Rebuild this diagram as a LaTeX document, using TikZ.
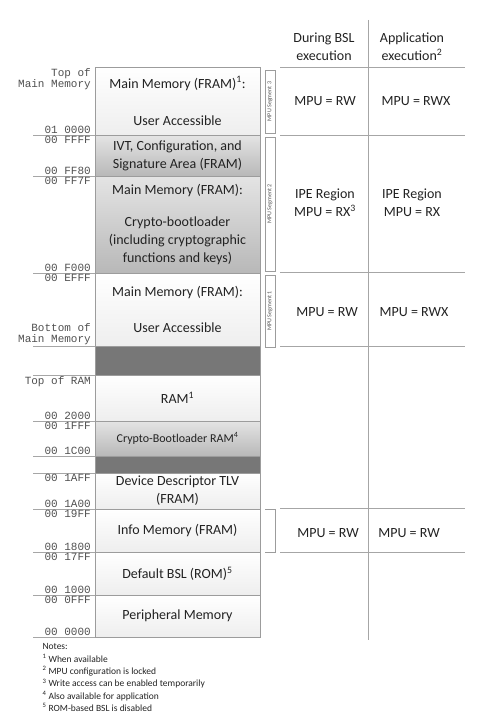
\documentclass[tikz,border=0pt]{standalone}
\usepackage{fontspec}
\setmainfont{Carlito}
\newfontfamily\addrfont{Liberation Mono}
\usetikzlibrary{positioning,shadows}
\definecolor{MemBorder}{HTML}{9C9C9C}
\definecolor{MemLightBot}{HTML}{EEEEEE}
\definecolor{MemGrayTop}{HTML}{E4E4E4}
\definecolor{MemGrayBot}{HTML}{B8B8B8}
\definecolor{MemDark}{HTML}{777777}
\definecolor{AddrText}{HTML}{505050}
\definecolor{RuleGray}{HTML}{A6A6A6}
\definecolor{InkText}{HTML}{222222}
\tikzset{
    % memory map boxes
    mem/.style={
        rectangle,
        draw=MemBorder,
        line width=0.8pt,
        top color=white,
        bottom color=MemLightBot,
        text=InkText,
        minimum width=165pt,
        inner sep=0pt,
        outer sep=0pt,
        align=center,
        font=\fontsize{14}{18}\selectfont,
        drop shadow={shadow xshift=1.2pt, shadow yshift=-1.2pt, opacity=0.25}
    },
    mem gray/.style={
        mem,
        top color=MemGrayTop,
        bottom color=MemGrayBot
    },
    mem dark/.style={
        mem,
        top color=MemDark,
        bottom color=MemDark
    },
    addr/.style={
        font=\addrfont\fontsize{11}{11.5}\selectfont,
        text=AddrText,
        inner sep=1pt,
        align=right
    },
    tick/.style={
        draw=RuleGray,
        line width=0.8pt
    },
    grid line/.style={
        draw=RuleGray,
        line width=0.7pt
    },
    segbox/.style={
        rectangle,
        draw=MemBorder,
        line width=0.6pt,
        minimum height=10pt,
        inner sep=0pt,
        text=AddrText,
        font=\fontsize{6}{7}\selectfont
    },
    cell/.style={
        align=center,
        text=InkText,
        font=\fontsize{14}{18}\selectfont
    },
    notes/.style={
        align=left,
        anchor=north west,
        text=InkText,
        font=\fontsize{9.5}{12.4}\selectfont
    }
}
\begin{document}
\begin{tikzpicture}[x=1pt, y=-1pt]
    \useasboundingbox (0,0) rectangle (491,725);

    % memory column
    \node[mem, anchor=north, minimum height=68pt] (main3) at (177.5,67)
        {Main Memory (FRAM)\textsuperscript{1}:\\[19pt]User Accessible};
    \node[mem gray, below=0pt of main3, minimum height=41pt] (ivt)
        {IVT, Configuration, and\\Signature Area (FRAM)};
    \node[mem gray, below=0pt of ivt, minimum height=97pt] (crypto)
        {Main Memory (FRAM):\\[14pt]Crypto-bootloader\\(including cryptographic\\functions and keys)};
    \node[mem, below=0pt of crypto, minimum height=73pt] (main1)
        {Main Memory (FRAM):\\[18pt]User Accessible};
    \node[mem dark, below=0pt of main1, minimum height=29pt] (gapa) {};
    \node[mem, below=0pt of gapa, minimum height=46pt] (ram)
        {RAM\textsuperscript{1}};
    \node[mem gray, below=0pt of ram, minimum height=35pt,
        font=\fontsize{12}{14}\selectfont] (cbram)
        {Crypto-Bootloader RAM\textsuperscript{4}};
    \node[mem dark, below=0pt of cbram, minimum height=17pt] (gapb) {};
    \node[mem, below=0pt of gapb, minimum height=36pt] (tlv)
        {Device Descriptor TLV\\(FRAM)};
    \node[mem, below=0pt of tlv, minimum height=43pt] (info)
        {Info Memory (FRAM)};
    \node[mem, below=0pt of info, minimum height=43pt] (bsl)
        {Default BSL (ROM)\textsuperscript{5}};
    \node[mem, below=0pt of bsl, minimum height=42pt] (periph)
        {Peripheral Memory};

    % boundary ticks
    \foreach \b in {main3,ivt,crypto,main1,gapa,ram,cbram,gapb,tlv,info,bsl,periph}
        \draw[tick] (\b.south west) -- ++(-62,0);

    % addresses
    \node[addr, anchor=north east] (topmain) at ([xshift=-3pt]main3.north west) {Top of\\Main Memory};
    \node[addr, anchor=south east] (a10000) at ([xshift=-3pt]main3.south west) {01 0000};
    \node[addr, anchor=north east] (affff) at ([xshift=-3pt]ivt.north west) {00 FFFF};
    \node[addr, anchor=south east] (aff80) at ([xshift=-3pt]ivt.south west) {00 FF80};
    \node[addr, anchor=north east] (aff7f) at ([xshift=-3pt]crypto.north west) {00 FF7F};
    \node[addr, anchor=south east] (af000) at ([xshift=-3pt]crypto.south west) {00 F000};
    \node[addr, anchor=north east] (aefff) at ([xshift=-3pt]main1.north west) {00 EFFF};
    \node[addr, anchor=south east] (botmain) at ([xshift=-3pt]main1.south west) {Bottom of\\Main Memory};
    \node[addr, anchor=north east] (topram) at ([xshift=-3pt]ram.north west) {Top of RAM};
    \node[addr, anchor=south east] (a2000) at ([xshift=-3pt]ram.south west) {00 2000};
    \node[addr, anchor=north east] (a1fff) at ([xshift=-3pt]cbram.north west) {00 1FFF};
    \node[addr, anchor=south east] (a1c00) at ([xshift=-3pt]cbram.south west) {00 1C00};
    \node[addr, anchor=north east] (a1aff) at ([xshift=-3pt]tlv.north west) {00 1AFF};
    \node[addr, anchor=south east] (a1a00) at ([xshift=-3pt]tlv.south west) {00 1A00};
    \node[addr, anchor=north east] (a19ff) at ([xshift=-3pt]info.north west) {00 19FF};
    \node[addr, anchor=south east] (a1800) at ([xshift=-3pt]info.south west) {00 1800};
    \node[addr, anchor=north east] (a17ff) at ([xshift=-3pt]bsl.north west) {00 17FF};
    \node[addr, anchor=south east] (a1000) at ([xshift=-3pt]bsl.south west) {00 1000};
    \node[addr, anchor=north east] (a0fff) at ([xshift=-3pt]periph.north west) {00 0FFF};
    \node[addr, anchor=south east] (a0000) at ([xshift=-3pt]periph.south west) {00 0000};

    % MPU segments
    \node[segbox, minimum width=63pt, rotate=90] (seg3) at (270,101.5) {MPU Segment 3};
    \node[segbox, minimum width=134pt, rotate=90] (seg2) at (270,204) {MPU Segment 2};
    \node[segbox, minimum width=72pt, rotate=90] (seg1) at (270,311) {MPU Segment 1};
    \draw[draw=MemBorder, line width=0.6pt] (265,509) -- (275,509) -- (275,552) -- (265,552);

    % access table
    \draw[grid line] (368,20) -- (368,640);
    \foreach \y in {67,135,272,346,508,552}
        \draw[grid line] (280,\y) -- (465,\y);
    \node[cell] (hbsl) at (324,47) {During BSL\\execution};
    \node[cell] (happ) at (412,47) {Application\\execution\textsuperscript{2}};
    \node[cell] (s3bsl) at (325,101) {MPU = RW};
    \node[cell] (s3app) at (416,101) {MPU = RWX};
    \node[cell] (s2bsl) at (325,203) {IPE Region\\MPU = RX\textsuperscript{3}};
    \node[cell] (s2app) at (412,203) {IPE Region\\MPU = RX};
    \node[cell] (s1bsl) at (327,312) {MPU = RW};
    \node[cell] (s1app) at (414,312) {MPU = RWX};
    \node[cell] (infobsl) at (328,533) {MPU = RW};
    \node[cell] (infoapp) at (409,533) {MPU = RW};

    % notes
    \node[notes] (notes) at (39,640)
        {Notes:\\
         \textsuperscript{1} When available\\
         \textsuperscript{2} MPU configuration is locked\\
         \textsuperscript{3} Write access can be enabled temporarily\\
         \textsuperscript{4} Also available for application\\
         \textsuperscript{5} ROM-based BSL is disabled};
\end{tikzpicture}
\end{document}
